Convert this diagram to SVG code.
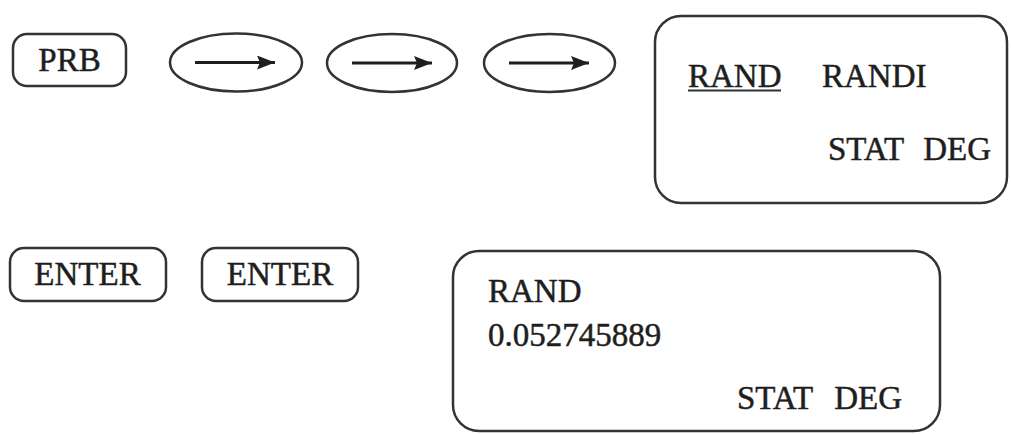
<svg xmlns="http://www.w3.org/2000/svg" width="1011" height="434" viewBox="0 0 1011 434">
<style>
.k{fill:#fff;stroke:#333;stroke-width:2.5}
.t{font-family:"Liberation Serif","Times New Roman",serif;font-size:33px;fill:#1e1e1e;stroke:#1e1e1e;stroke-width:0.5}
.a{stroke:#1e1e1e;stroke-width:3;fill:none}
</style>
<defs>
<marker id="arr" viewBox="0 0 18 14" refX="18" refY="7" markerWidth="18" markerHeight="14" markerUnits="userSpaceOnUse" orient="auto">
<path d="M0,0 L18,7 L0,14 L3,7 Z" fill="#1e1e1e"/>
</marker>
</defs>
<rect width="1011" height="434" fill="#fff"/>
<g id="key-prb">
<rect class="k" x="13" y="34" width="113" height="52" rx="14"/>
<text class="t" x="69.5" y="71" text-anchor="middle">PRB</text>
</g>
<g id="key-right-1">
<ellipse class="k" cx="236" cy="62.5" rx="66" ry="29"/>
</g>
<g id="key-right-2">
<ellipse class="k" cx="392" cy="63" rx="65" ry="29"/>
</g>
<g id="key-right-3">
<ellipse class="k" cx="549.5" cy="63" rx="65.5" ry="29"/>
</g>
<g id="connectors">
<line class="a" x1="195" y1="62.5" x2="275" y2="62.5" marker-end="url(#arr)"/>
<line class="a" x1="352" y1="63" x2="432" y2="63" marker-end="url(#arr)"/>
<line class="a" x1="509" y1="63" x2="589" y2="63" marker-end="url(#arr)"/>
</g>
<g id="screen-1">
<rect class="k" x="655" y="16" width="352" height="187" rx="26"/>
<text class="t" x="688" y="87">RAND</text>
<line x1="688" y1="90.5" x2="781" y2="90.5" stroke="#333" stroke-width="2"/>
<text class="t" x="822" y="87">RANDI</text>
<text class="t" x="828" y="160">STAT</text>
<text class="t" x="991" y="160" text-anchor="end">DEG</text>
</g>
<g id="key-enter-1">
<rect class="k" x="10" y="248" width="156" height="53" rx="14"/>
<text class="t" x="87.5" y="285" text-anchor="middle">ENTER</text>
</g>
<g id="key-enter-2">
<rect class="k" x="202" y="248" width="156" height="53" rx="14"/>
<text class="t" x="280" y="285" text-anchor="middle">ENTER</text>
</g>
<g id="screen-2">
<rect class="k" x="453" y="251" width="487" height="180" rx="26"/>
<text class="t" x="488" y="302">RAND</text>
<text class="t" x="488" y="346">0.052745889</text>
<text class="t" x="737" y="409">STAT</text>
<text class="t" x="902" y="409" text-anchor="end">DEG</text>
</g>
</svg>
